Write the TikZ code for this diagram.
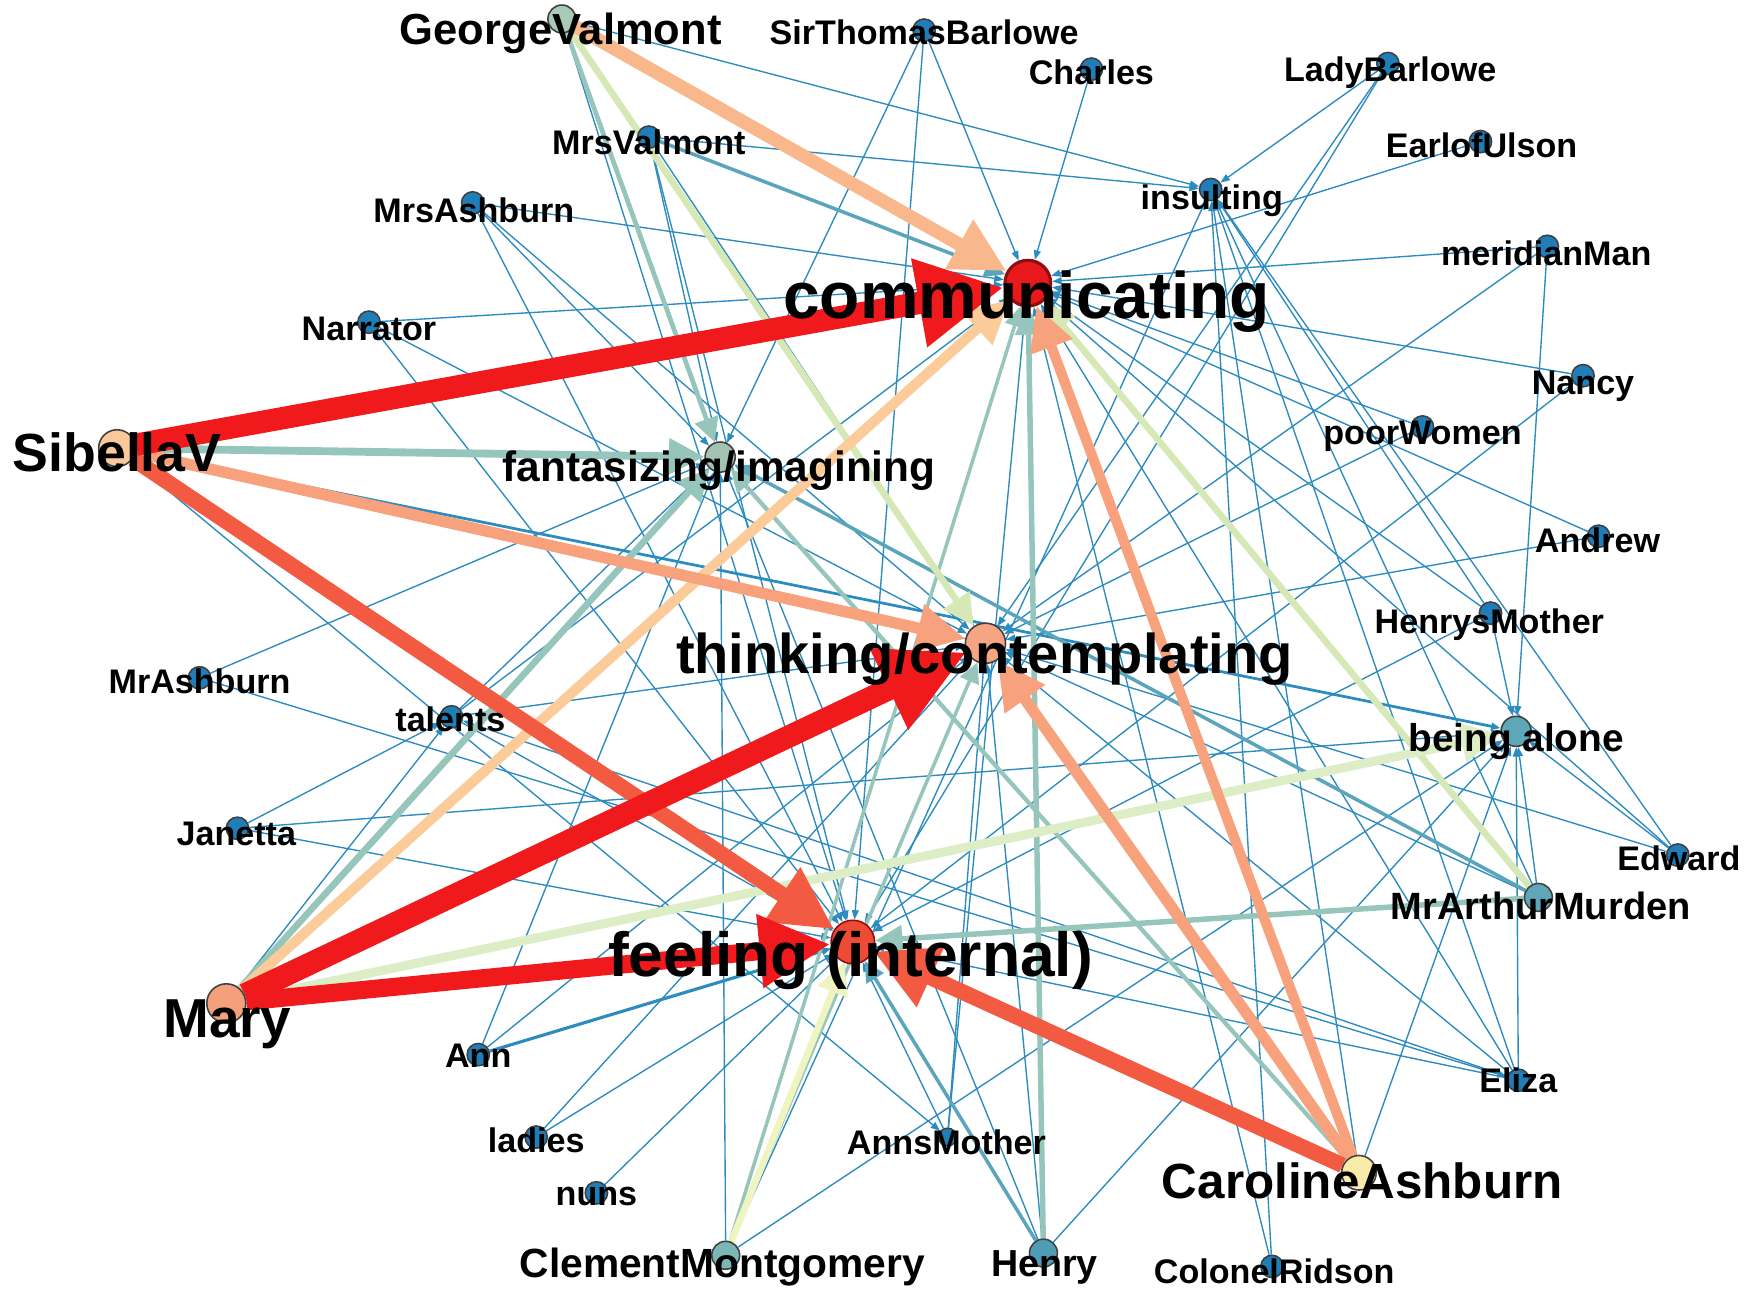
\documentclass[tikz,border=0pt]{standalone}
\usepackage{fontspec}
\setmainfont{Liberation Sans}
\usetikzlibrary{arrows.meta}
\definecolor{lnkblue}{HTML}{2C8BBF}
\definecolor{nodeblue}{HTML}{1F7DB8}
\definecolor{comred}{HTML}{E8191C}
\definecolor{comedge}{HTML}{8E0F10}
\definecolor{feefill}{HTML}{EE4A36}
\definecolor{thkfill}{HTML}{F5A582}
\definecolor{sibfill}{HTML}{F9C99C}
\definecolor{maryfill}{HTML}{F4A07C}
\definecolor{carfill}{HTML}{FAEBAA}
\definecolor{gvfill}{HTML}{A9CAB6}
\definecolor{fanfill}{HTML}{A3C3B2}
\definecolor{alofill}{HTML}{5DA7B8}
\definecolor{henfill}{HTML}{4E9CB5}
\definecolor{clefill}{HTML}{7DB6B6}
% edge colours, weak to strong
\definecolor{eteal}{HTML}{5AA5BB}
\definecolor{esage}{HTML}{96C6BB}
\definecolor{epgreen}{HTML}{D5E8B6}
\definecolor{epyellow}{HTML}{EFF5C0}
\definecolor{elorange}{HTML}{FBCB99}
\definecolor{esalmon}{HTML}{F7A27D}
\definecolor{elsalmon}{HTML}{F9B78C}
\definecolor{eredor}{HTML}{F35A42}
\definecolor{ered}{HTML}{F01A1C}
\pgfdeclarelayer{edges}
\pgfsetlayers{edges,main}

\begin{document}
\begin{tikzpicture}[x=0.01cm,y=-0.01cm,
  act/.style={circle,draw=black!75,line width=0.4pt,inner sep=0pt,minimum size=#1},
  act/.default=0.2cm,
  who/.style={act,fill=nodeblue},
  lab/.style={font=\fontsize{#1}{#1}\selectfont\bfseries,inner sep=0pt,anchor=base},
  lab/.default=8.7pt,
  lnk/.style={draw=lnkblue,line width=0.35pt,-{Triangle[length=2.4pt,width=1.8pt]}},
  wide/.style 2 args={draw=#1,line width=#2,-{Triangle[length=2pt 3.5,width=2pt 3.4]}}]
  \useasboundingbox (0,0) rectangle (1568,1160);

  % activities
  \node[act=0.41cm,fill=comred,draw=comedge,line width=0.8pt] (com) at (922,254) {};
  \node[act=0.36cm,fill=thkfill] (thk) at (884,577) {};
  \node[act=0.39cm,fill=feefill,draw=comedge] (fee) at (765,845) {};
  \node[act=0.27cm,fill=fanfill] (fan) at (646,410) {};
  \node[act=0.27cm,fill=alofill] (alo) at (1360,656) {};
  \node[who] (ins) at (1086,170) {};
  \node[who] (tal) at (405,643) {};
  % characters
  \node[act=0.33cm,fill=sibfill] (sib) at (105,402) {};
  \node[act=0.35cm,fill=maryfill] (mary) at (203,900) {};
  \node[act=0.31cm,fill=carfill] (car) at (1219,1052) {};
  \node[act=0.25cm,fill=gvfill] (gv) at (504,17) {};
  \node[act=0.25cm,fill=alofill] (mam) at (1380,805) {};
  \node[act=0.25cm,fill=henfill] (hen) at (936,1124) {};
  \node[act=0.25cm,fill=clefill] (cle) at (651,1126) {};
  \node[who] (stb) at (829,27) {};
  \node[who] (cha) at (979,62) {};
  \node[who] (lbw) at (1245,57) {};
  \node[who] (eou) at (1328,127) {};
  \node[who] (mvt) at (582,123) {};
  \node[who] (mas) at (424,182) {};
  \node[who] (mer) at (1388,221) {};
  \node[who] (nar) at (331,289) {};
  \node[who] (nan) at (1420,337) {};
  \node[who] (pw) at (1276,383) {};
  \node[who] (andr) at (1434,481) {};
  \node[who] (hm) at (1337,550) {};
  \node[who] (mra) at (179,608) {};
  \node[who] (jan) at (213,743) {};
  \node[who] (edw) at (1505,767) {};
  \node[who] (eli) at (1362,969) {};
  \node[who] (ann) at (429,946) {};
  \node[who] (lad) at (481,1020) {};
  \node[who,minimum size=0.16cm] (amo) at (850,1020) {};
  \node[who] (nun) at (535,1070) {};
  \node[who] (col) at (1141,1136) {};

  \begin{pgfonlayer}{edges}
    \foreach \a/\b in {stb/com,stb/fee,stb/fan,cha/com,lbw/ins,lbw/thk,lbw/fee,
        eou/com,mer/com,mer/alo,mer/thk,nan/com,nan/fee,pw/com,pw/thk,
        andr/com,andr/thk,hm/alo,hm/com,hm/fee,hm/ins,edw/alo,edw/com,edw/thk,
        edw/ins,eli/alo,eli/thk,eli/tal,eli/com,eli/fee,eli/ins,col/com,col/ins,
        car/alo,car/ins,amo/fee,amo/com,amo/thk,hen/thk,hen/fan,hen/alo,hen/fee,
        cle/fan,cle/alo,cle/ins,nun/fee,lad/fee,lad/thk,ann/fan,ann/thk,
        jan/alo,jan/tal,jan/fee,tal/fee,tal/thk,tal/fan,tal/com,mra/fan,mra/eli,
        nar/com,nar/fee,nar/thk,mas/com,mas/fan,mas/thk,mas/fee,mvt/fan,mvt/fee,
        mvt/ins,mvt/thk,gv/ins,gv/fee,gv/fan,sib/fee,sib/amo,sib/thk,mam/alo,
        mam/ins,mam/thk,mary/tal,mary/fan}
      \draw[lnk] (\a) -- (\b);
    % medium
    \draw[lnk,line width=0.7pt] (sib) -- (alo);
    \draw[lnk,line width=0.8pt] (ann) -- (fee);
    \draw[wide={eteal}{0.9pt}] (mvt) -- (com);
    \draw[wide={eteal}{0.9pt}] (mam) -- (fan);
    \draw[wide={eteal}{0.9pt}] (hen) -- (fee);
    \draw[wide={esage}{0.9pt}] (cle) -- (thk);
    \draw[wide={esage}{0.9pt}] (cle) -- (com);
    \draw[wide={esage}{0.9pt}] (cle) -- (fee);
    \draw[wide={esage}{1.1pt}] (car) -- (fan);
    \draw[wide={esage}{1.2pt}] (gv) -- (fan);
    \draw[wide={esage}{1.4pt}] (hen) -- (com);
    \draw[wide={esage}{1.4pt}] (mam) -- (fee);
    % strong
    \draw[wide={esage}{1.7pt}] (mary) -- (fan);
    \draw[wide={esage}{2pt}] (sib) -- (fan);
    \draw[wide={epgreen}{1.7pt}] (gv) -- (thk);
    \draw[wide={epgreen}{1.7pt}] (mam) -- (com);
    \draw[wide={epyellow}{1.7pt}] (cle) -- (fee);
    \draw[wide={epgreen!80!white}{2.3pt}] (mary) -- (alo);
    \draw[wide={elorange}{2.6pt}] (mary) -- (com);
    \draw[wide={esalmon}{2.6pt}] (car) -- (com);
    \draw[wide={esalmon}{2.9pt}] (sib) -- (thk);
    \draw[wide={esalmon}{2.9pt}] (car) -- (thk);
    \draw[wide={elsalmon}{3.4pt}] (gv) -- (com);
    \draw[wide={eredor}{4pt}] (sib) -- (fee);
    \draw[wide={eredor}{4pt}] (car) -- (fee);
    \draw[wide={ered}{4.6pt}] (mary) -- (fee);
    \draw[wide={ered}{5.7pt}] (mary) -- (thk);
    \draw[wide={ered}{5.7pt}] (sib) -- (com);
  \end{pgfonlayer}

  % labels
  \node[lab=16.8pt] (comL) at (921,286) {communicating};
  \node[lab=14.3pt] (thkL) at (883,604) {thinking/contemplating};
  \node[lab=15.9pt] (feeL) at (763,876) {feeling (internal)};
  \node[lab=10.8pt] (fanL) at (645,432) {fantasizing/imagining};
  \node[lab=9.9pt] (aloL) at (1360,674) {being alone};
  \node[lab] (insL) at (1087,188) {insulting};
  \node[lab] (talL) at (404,656) {talents};
  \node[lab=13.7pt] (sibL) at (105,423) {SibellaV};
  \node[lab=14pt] (maryL) at (204,931) {Mary};
  \node[lab=12.6pt] (carL) at (1222,1075) {CarolineAshburn};
  \node[lab=11.1pt] (gvL) at (503,40) {GeorgeValmont};
  \node[lab=9.7pt] (mamL) at (1382,825) {MrArthurMurden};
  \node[lab=9.6pt] (henL) at (937,1145) {Henry};
  \node[lab=10.4pt] (cleL) at (648,1146) {ClementMontgomery};
  \node[lab] (stbL) at (829,40) {SirThomasBarlowe};
  \node[lab] (chaL) at (979,76) {Charles};
  \node[lab] (lbwL) at (1247,73) {LadyBarlowe};
  \node[lab] (eouL) at (1329,141) {EarlofUlson};
  \node[lab] (mvtL) at (582,139) {MrsValmont};
  \node[lab] (masL) at (425,200) {MrsAshburn};
  \node[lab] (merL) at (1387,238) {meridianMan};
  \node[lab] (narL) at (331,305) {Narrator};
  \node[lab] (nanL) at (1420,354) {Nancy};
  \node[lab] (pwL) at (1276,399) {poorWomen};
  \node[lab] (andrL) at (1433,496) {Andrew};
  \node[lab] (hmL) at (1336,568) {HenrysMother};
  \node[lab] (mraL) at (179,622) {MrAshburn};
  \node[lab] (janL) at (212,758) {Janetta};
  \node[lab] (edwL) at (1506,781) {Edward};
  \node[lab] (eliL) at (1362,980) {Eliza};
  \node[lab] (annL) at (429,958) {Ann};
  \node[lab] (ladL) at (481,1034) {ladies};
  \node[lab] (amoL) at (849,1036) {AnnsMother};
  \node[lab] (nunL) at (535,1081) {nuns};
  \node[lab] (colL) at (1143,1151) {ColonelRidson};
\end{tikzpicture}
\end{document}
